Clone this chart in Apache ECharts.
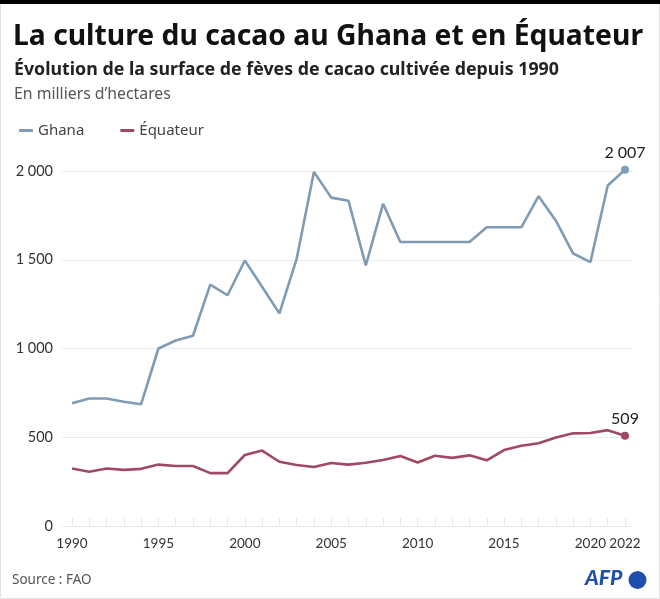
<!DOCTYPE html>
<html>
<head>
<meta charset="utf-8">
<script src="https://cdn.jsdelivr.net/npm/echarts@6/dist/echarts.min.js"></script>
<style>
html,body{margin:0;padding:0;background:#fff;}
#chart{width:660px;height:599px;}
</style>
</head>
<body>
<div id="chart"></div>
<script>
const years = [1990,1991,1992,1993,1994,1995,1996,1997,1998,1999,2000,2001,2002,2003,2004,2005,2006,2007,2008,2009,2010,2011,2012,2013,2014,2015,2016,2017,2018,2019,2020,2021,2022];
const ghana = [692,718,718,700,686,1000,1045,1072,1360,1300,1496,1348,1198,1505,1995,1850,1832,1468,1815,1600,1600,1600,1600,1600,1683,1683,1683,1858,1720,1535,1487,1918,2007];
const equateur = [324,306,324,316,322,346,338,338,298,298,400,425,362,344,332,355,346,356,372,394,358,396,384,398,370,428,452,466,498,522,524,540,509];
const yTicks = [0,500,1000,1500,2000];
const xLabelYears = [1990,1995,2000,2005,2010,2015,2020,2022];

const FONT = 'Lato, "Noto Sans", sans-serif';
const HFONT = '"Noto Sans", Lato, sans-serif';
const fmt = v => String(v).replace(/\B(?=(\d{3})+(?!\d))/g, ' ');

function withEnd(arr) {
  return arr.map((v, i) => i === arr.length - 1
    ? {value: v, symbol: 'circle', symbolSize: 8,
       label: {show: true, position: 'top', distance: 5, formatter: p => fmt(p.value),
               fontFamily: FONT, fontSize: 16, color: '#222'}}
    : {value: v, symbol: 'none'});
}

const chart = echarts.init(document.getElementById('chart'), null, {renderer: 'canvas'});
const GH = '#7f9cb4', EQ = '#a04a61';
chart.setOption({
  backgroundColor: '#fff',
  animation: false,
  textStyle: {fontFamily: FONT},
  graphic: [
    {type: 'rect', shape: {x: 0.5, y: 0.5, width: 659, height: 598}, style: {fill: 'none', stroke: '#e2e2e2', lineWidth: 1}},
    {type: 'rect', shape: {x: 0, y: 0, width: 660, height: 4}, style: {fill: '#000'}},
    {type: 'text', left: 13, top: 23, style: {text: 'La culture du cacao au Ghana et en Équateur', fontFamily: HFONT, fontWeight: 'bold', fontSize: 28.3, fill: '#111'}},
    {type: 'text', left: 14, top: 61, style: {text: 'Évolution de la surface de fèves de cacao cultivée depuis 1990', fontFamily: HFONT, fontWeight: 'bold', fontSize: 17.8, fill: '#222'}},
    {type: 'text', left: 14, top: 86, style: {text: 'En milliers d\u2019hectares', fontFamily: HFONT, fontSize: 15.8, fill: '#555'}},
    {type: 'text', left: 12, top: 573, style: {text: 'Source : FAO', fontFamily: HFONT, fontSize: 13.5, fill: '#555'}},
    {type: 'text', left: 585, top: 568, style: {text: 'AFP', fontFamily: FONT, fontWeight: 900, fontStyle: 'italic', fontSize: 21, fill: '#1f4fae'}},
    {type: 'circle', shape: {cx: 637.5, cy: 580, r: 9}, style: {fill: '#1f4fae'}}
  ],
  legend: {
    left: 14, top: 118, itemGap: 36, itemWidth: 14, itemHeight: 3, icon: 'roundRect',
    textStyle: {fontFamily: HFONT, fontSize: 15, color: '#444'},
    data: [{name: 'Ghana', itemStyle: {color: GH}}, {name: 'Équateur', itemStyle: {color: EQ}}]
  },
  grid: [
    {left: 62, right: 28, top: 171, bottom: 73},
    {left: 72, right: 35, top: 171, bottom: 73}
  ],
  xAxis: [
    {gridIndex: 0, type: 'value', show: false, min: 0, max: 1},
    {gridIndex: 1, type: 'category', data: years, boundaryGap: false,
     axisLine: {show: true, lineStyle: {color: '#e6e6e6'}},
     axisTick: {show: true, inside: true, length: 8, lineStyle: {color: '#e6e6e6'}, interval: 0},
     axisLabel: {interval: (i, v) => xLabelYears.includes(Number(v)), margin: 11,
                 fontFamily: FONT, fontSize: 13.5, color: '#333'},
     splitLine: {show: false}}
  ],
  yAxis: [
    {gridIndex: 0, type: 'value', min: yTicks[0], max: yTicks[yTicks.length - 1], interval: 500,
     axisLine: {show: false}, axisTick: {show: false},
     axisLabel: {formatter: v => fmt(v), margin: 9, fontFamily: FONT, fontSize: 14.5, color: '#333'},
     splitLine: {show: true, lineStyle: {color: '#ebebeb', width: 1}}},
    {gridIndex: 1, type: 'value', min: yTicks[0], max: yTicks[yTicks.length - 1], interval: 500, show: false,
     splitLine: {show: false}}
  ],
  series: [
    {name: 'Ghana', type: 'line', xAxisIndex: 1, yAxisIndex: 1, data: withEnd(ghana), color: GH, clip: false,
     lineStyle: {width: 2.6, color: GH}, itemStyle: {color: GH}, showSymbol: true, showAllSymbol: true, z: 3},
    {name: 'Équateur', type: 'line', xAxisIndex: 1, yAxisIndex: 1, data: withEnd(equateur), color: EQ, clip: false,
     lineStyle: {width: 2.6, color: EQ}, itemStyle: {color: EQ}, showSymbol: true, showAllSymbol: true, z: 3}
  ]
});
</script>
</body>
</html>
